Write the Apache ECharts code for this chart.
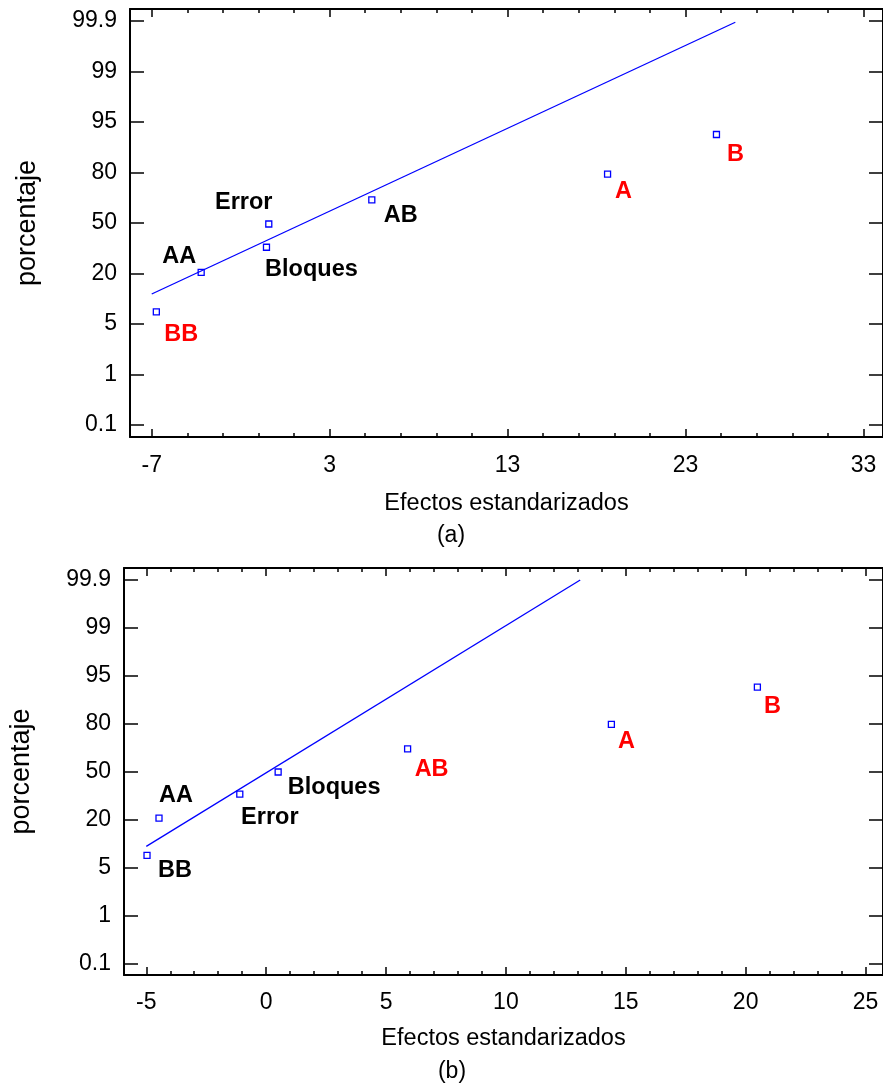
<!DOCTYPE html>
<html>
<head>
<meta charset="utf-8">
<script src="https://cdn.jsdelivr.net/npm/echarts@6/dist/echarts.min.js"></script>
<style>
html, body { margin: 0; padding: 0; background: #fff; }
#chart { width: 883px; height: 1087px; }
</style>
</head>
<body>
<div id="chart"></div>
<script>
// probability scale, the labels sit at equal steps on the plot
const yTickPct = [0.1, 1, 5, 20, 50, 80, 95, 99, 99.9]
const effectNames = ['BB', 'AA', 'Error', 'Bloques', 'AB', 'A', 'B']

// panel (a)
const xTicksA = [-7, 3, 13, 23, 33]
const effectsA = [-6.74, -4.22, -0.42, -0.55, 5.37, 18.62, 24.74]
const pctA = [8.6, 20.6, 49.4, 35.6, 63.8, 79.1, 91.3]
const redA = ['BB', 'A', 'B']
const lineXA = [-7.0, 25.8]
const linePctA = [13.9, 99.88]

// panel (b)
const xTicksB = [-5, 0, 5, 10, 15, 20, 25]
const effectsB = [-4.97, -4.47, -1.10, 0.50, 5.90, 14.40, 20.49]
const pctB = [8.8, 20.9, 35.9, 49.7, 64.1, 79.4, 91.4]
const redB = ['AB', 'A', 'B']
const lineXB = [-5.0, 13.1]
const linePctB = [11.6, 99.89]

// label placement next to each marker (px)
const offA = [[25, 23], [-22, -16], [-25, -21], [45, 22], [29, 16], [16, 17], [19, 20]]
const offB = [[28, 15], [17, -23], [30, 23], [56, 16], [24, 21], [15, 17], [15, 19]]

const FONT = '"Liberation Sans", Arial, sans-serif'

// percent -> position on the equally spaced probability axis
function probPos(p) {
    for (let i = 0; i < yTickPct.length - 1; i++) {
        const a = yTickPct[i], b = yTickPct[i + 1]
        if (p <= b || i === yTickPct.length - 2) {
            return i + (p - a) / (b - a)
        }
    }
}

function minorTicks(major, step, min, max) {
    const out = []
    for (let v = major[0] - step * 10; v <= max; v += step) {
        if (v >= min && major.indexOf(v) < 0) out.push(v)
    }
    return out
}

function buildPanel(gi, p) {
    const minor = minorTicks(p.ticks, p.step, p.min, p.max)
    const yIdx = yTickPct.map((v, i) => i)
    const line = {show: true, onZero: false, lineStyle: {color: '#000', width: 2}}
    const noLine = {show: false, onZero: false}
    const tick = (vals, len) => ({show: true, inside: true, length: len, customValues: vals,
        lineStyle: {color: '#000', width: 1.5}})
    const base = {gridIndex: gi, type: 'value', min: p.min, max: p.max, splitLine: {show: false}}
    const xAxes = [
        Object.assign({}, base, {
            position: 'bottom', axisLine: line, axisTick: tick(p.ticks, 8),
            axisLabel: {customValues: p.ticks, fontSize: 23, color: '#000', margin: p.xLabelMargin, fontFamily: FONT},
            name: 'Efectos estandarizados', nameLocation: 'middle', nameGap: p.xNameGap,
            nameTextStyle: {fontSize: 23.5, color: '#000', fontFamily: FONT}
        }),
        Object.assign({}, base, {position: 'bottom', axisLine: noLine, axisTick: tick(minor, 4), axisLabel: {show: false}}),
        Object.assign({}, base, {position: 'top', axisLine: line, axisTick: tick(p.ticks, 8), axisLabel: {show: false}}),
        Object.assign({}, base, {position: 'top', axisLine: noLine, axisTick: tick(minor, 4), axisLabel: {show: false}})
    ]
    const ybase = {gridIndex: gi, type: 'value', min: -0.24, max: 8.24, splitLine: {show: false}}
    const yAxes = [
        Object.assign({}, ybase, {
            position: 'left', axisLine: line, axisTick: tick(yIdx, 14),
            axisLabel: {customValues: yIdx, fontSize: 23, color: '#000', margin: 13, fontFamily: FONT,
                formatter: v => String(yTickPct[Math.round(v)])},
            name: 'porcentaje', nameLocation: 'middle', nameGap: 89,
            nameTextStyle: {fontSize: 27, color: '#000', fontFamily: FONT}
        }),
        Object.assign({}, ybase, {position: 'right', axisLine: line, axisTick: tick(yIdx, 14), axisLabel: {show: false}})
    ]
    const points = effectNames.map((name, i) => ({
        value: [p.effects[i], probPos(p.pct[i])],
        name: name,
        label: {offset: p.off[i], color: p.red.indexOf(name) >= 0 ? '#ff0000' : '#000000'}
    }))
    const series = [
        {
            type: 'line', xAxisIndex: gi * 4, yAxisIndex: gi * 2,
            data: p.lineX.map((x, i) => [x, probPos(p.linePct[i])]),
            symbol: 'none', lineStyle: {color: '#0000ff', width: 1.3}, silent: true
        },
        {
            type: 'scatter', xAxisIndex: gi * 4, yAxisIndex: gi * 2,
            data: points, symbol: 'rect', symbolSize: 6,
            itemStyle: {color: '#fff', borderColor: '#0000ff', borderWidth: 1.3, opacity: 1},
            label: {show: true, position: 'inside', formatter: '{b}', fontSize: 23.5, fontWeight: 'bold',
                fontFamily: FONT, align: 'center', verticalAlign: 'middle',
                textBorderWidth: 0, textBorderColor: 'transparent', opacity: 1}
        }
    ]
    return {grid: p.grid, xAxes, yAxes, series}
}

const panelA = buildPanel(0, {
    grid: {left: 130, top: 9, width: 755, height: 428},
    ticks: xTicksA, step: 2, min: -8.22, max: 34.1, xNameGap: 55, xLabelMargin: 17,
    effects: effectsA, pct: pctA, red: redA, off: offA, lineX: lineXA, linePct: linePctA
})
const panelB = buildPanel(1, {
    grid: {left: 122, top: 568, width: 763, height: 407},
    ticks: xTicksB, step: 1, min: -5.93, max: 25.73, xNameGap: 52, xLabelMargin: 16,
    effects: effectsB, pct: pctB, red: redB, off: offB, lineX: lineXB, linePct: linePctB
})

const chart = echarts.init(document.getElementById('chart'), null, {renderer: 'canvas'})
chart.setOption({
    animation: false,
    backgroundColor: '#fff',
    grid: [panelA.grid, panelB.grid],
    xAxis: panelA.xAxes.concat(panelB.xAxes),
    yAxis: panelA.yAxes.concat(panelB.yAxes),
    series: panelA.series.concat(panelB.series),
    graphic: [
        {type: 'text', x: 451, y: 536, style: {text: '(a)', font: '23px ' + FONT, fill: '#000',
            textAlign: 'center', textVerticalAlign: 'middle'}},
        {type: 'text', x: 452, y: 1072, style: {text: '(b)', font: '23px ' + FONT, fill: '#000',
            textAlign: 'center', textVerticalAlign: 'middle'}}
    ]
})
</script>
</body>
</html>
